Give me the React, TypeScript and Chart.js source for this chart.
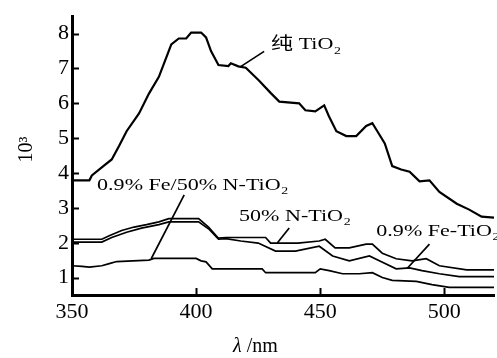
import React, { useEffect, useRef } from "react";
import { Chart, registerables } from "chart.js";

Chart.register(...registerables);

// Wavelength (nm) and values (10^3)
const wlPure = [350, 357, 358, 362, 366, 369, 372, 377, 381, 385, 388, 390, 393, 396, 398, 402, 404, 406, 409, 413, 414, 417, 420, 425.4, 430, 433.5, 441.5, 444, 448, 451.6, 453.5, 456.5, 460.5, 464.5, 468.5, 471, 473, 476, 479, 482.6, 486, 490, 494, 498, 505, 510, 515, 520];
const valPure = [3.79, 3.79, 3.93, 4.16, 4.39, 4.78, 5.2, 5.71, 6.28, 6.76, 7.32, 7.69, 7.86, 7.86, 8.03, 8.03, 7.89, 7.5, 7.1, 7.07, 7.15, 7.06, 7.02, 6.65, 6.3, 6.05, 6.0, 5.8, 5.77, 5.94, 5.63, 5.2, 5.06, 5.06, 5.35, 5.43, 5.2, 4.85, 4.2, 4.1, 4.04, 3.76, 3.79, 3.46, 3.12, 2.95, 2.75, 2.72];

const wlN = [350, 362, 365, 370, 375, 380, 385, 389, 401, 405, 409, 412, 428, 430, 441, 449.6, 452, 456, 461.7, 468.5, 471, 475, 480.6, 487, 492.7, 498, 509, 520];
const valN = [2.1, 2.1, 2.2, 2.35, 2.45, 2.52, 2.6, 2.69, 2.69, 2.45, 2.13, 2.15, 2.15, 1.99, 1.99, 2.05, 2.1, 1.85, 1.85, 1.96, 1.96, 1.7, 1.54, 1.48, 1.54, 1.34, 1.22, 1.22];

const wlFe = [350, 362, 366, 372, 378, 385, 389, 401, 405, 409, 412, 418, 425, 432, 440, 449.6, 455, 461.7, 469.8, 473.8, 480.6, 486, 491, 498, 506, 520];
const valFe = [2.02, 2.02, 2.15, 2.3, 2.42, 2.52, 2.6, 2.6, 2.4, 2.1, 2.12, 2.05, 1.99, 1.76, 1.76, 1.9, 1.62, 1.48, 1.62, 1.48, 1.25, 1.28, 1.2, 1.11, 1.03, 1.03];

const wlFeN = [350, 354, 357, 362, 365, 368, 381, 383, 400, 402, 404, 406.5, 426.6, 428, 448, 450, 453.6, 459, 465.7, 471, 475, 479, 488.7, 495, 502, 520];
const valFeN = [1.34, 1.32, 1.3, 1.34, 1.4, 1.46, 1.5, 1.55, 1.55, 1.48, 1.45, 1.25, 1.25, 1.14, 1.14, 1.25, 1.2, 1.11, 1.11, 1.14, 1.0, 0.92, 0.89, 0.8, 0.72, 0.72];

const xTicks = [350, 400, 450, 500];
const yTicks = [1, 2, 3, 4, 5, 6, 7, 8];

const seriesNames = ["纯 TiO2", "50% N-TiO2", "0.9% Fe-TiO2", "0.9% Fe/50% N-TiO2"];

// Annotation labels: [main text, subscript], text anchor (nm, value), leader line (nm, value) pairs
const labelTexts = [["纯 TiO", "2"], ["0.9% Fe/50% N-TiO", "2"], ["50% N-TiO", "2"], ["0.9% Fe-TiO", "2"]];
const labelAnchors = [[430.2, 7.68], [360.1, 3.65], [417.3, 2.75], [472.6, 2.33]];
const leaderLines = [[427.4, 7.49, 418.1, 7.06], [395.2, 3.37, 381.9, 1.54], [437.5, 2.42, 432.7, 1.99], [494, 1.96, 485, 1.26]];

const SERIF = "'Liberation Serif', 'Times New Roman', 'Noto Sans CJK SC', serif";

const toPts = (xs: number[], ys: number[]) => xs.map((x, i) => ({ x, y: ys[i] }));

const decorPlugin = {
  id: "decor",
  afterDraw(chart: any) {
    const ctx = chart.ctx;
    const xs = chart.scales.x;
    const ys = chart.scales.y;
    const area = chart.chartArea;
    ctx.save();
    ctx.strokeStyle = "#000";
    ctx.fillStyle = "#000";
    // inward tick marks
    ctx.lineWidth = 2;
    yTicks.forEach((v) => {
      const py = Math.round(ys.getPixelForValue(v)) + 0.5;
      ctx.beginPath();
      ctx.moveTo(area.left, py);
      ctx.lineTo(area.left + 7, py);
      ctx.stroke();
    });
    xTicks.forEach((v) => {
      const px = Math.round(xs.getPixelForValue(v)) + 0.5;
      ctx.beginPath();
      ctx.moveTo(px, area.bottom);
      ctx.lineTo(px, area.bottom - 7);
      ctx.stroke();
    });
    // leader lines
    ctx.lineWidth = 1.7;
    leaderLines.forEach((l) => {
      ctx.beginPath();
      ctx.moveTo(xs.getPixelForValue(l[0]), ys.getPixelForValue(l[1]));
      ctx.lineTo(xs.getPixelForValue(l[2]), ys.getPixelForValue(l[3]));
      ctx.stroke();
    });
    // labels with subscript, slightly widened like the reference
    const sx = 1.26;
    labelTexts.forEach((t, i) => {
      const px = xs.getPixelForValue(labelAnchors[i][0]);
      const py = ys.getPixelForValue(labelAnchors[i][1]);
      ctx.save();
      ctx.translate(px, py);
      ctx.scale(sx, 1);
      ctx.textBaseline = "middle";
      ctx.textAlign = "left";
      ctx.font = `17.5px ${SERIF}`;
      ctx.fillText(t[0], 0, 0);
      const w = ctx.measureText(t[0]).width;
      ctx.font = `11px ${SERIF}`;
      ctx.fillText(t[1], w + 0.5, 6);
      ctx.restore();
    });
    // y axis title (rotated)
    ctx.save();
    ctx.translate(27, (area.top + area.bottom) / 2 - 6);
    ctx.rotate(-Math.PI / 2);
    ctx.textAlign = "center";
    ctx.textBaseline = "middle";
    ctx.font = `20px ${SERIF}`;
    ctx.fillText("10³", 0, 0);
    ctx.restore();
    // x axis title
    ctx.save();
    ctx.textBaseline = "middle";
    ctx.textAlign = "left";
    const tx = 233;
    const ty = 347;
    ctx.font = `italic 20px ${SERIF}`;
    ctx.fillText("λ", tx, ty);
    const lw = ctx.measureText("λ").width;
    ctx.font = `20px ${SERIF}`;
    ctx.fillText(" /nm", tx + lw, ty);
    ctx.restore();
    ctx.restore();
  },
};

export default function App() {
  const ref = useRef<HTMLCanvasElement | null>(null);
  useEffect(() => {
    document.body.style.margin = "0";
    const canvas = ref.current;
    if (!canvas) return;
    const mk = (xs: number[], ys: number[], label: string, w: number) => ({
      label,
      data: toPts(xs, ys),
      borderColor: "#000",
      backgroundColor: "#000",
      borderWidth: w,
      pointRadius: 0,
      tension: 0,
      fill: false,
    });
    const chart = new Chart(canvas, {
      type: "line",
      data: {
        datasets: [
          mk(wlPure, valPure, seriesNames[0], 2.2),
          mk(wlN, valN, seriesNames[1], 1.7),
          mk(wlFe, valFe, seriesNames[2], 1.7),
          mk(wlFeN, valFeN, seriesNames[3], 1.7),
        ],
      },
      options: {
        animation: false,
        responsive: false,
        devicePixelRatio: 1,
        layout: { padding: { top: 11, right: 3, left: 0, bottom: 0 } },
        plugins: { legend: { display: false }, tooltip: { enabled: false } },
        scales: {
          x: {
            type: "linear",
            min: 350,
            max: 520,
            afterBuildTicks: (s: any) => {
              s.ticks = xTicks.map((v) => ({ value: v }));
            },
            afterFit: (s: any) => {
              s.height = 63;
            },
            grid: { display: false, drawTicks: false },
            border: { display: true, width: 3, color: "#000" },
            ticks: {
              color: "#000",
              font: { family: SERIF, size: 22 },
              padding: 4,
              maxRotation: 0,
            },
          },
          y: {
            type: "linear",
            min: 0.5,
            max: 8.5,
            afterBuildTicks: (s: any) => {
              s.ticks = yTicks.map((v) => ({ value: v }));
            },
            afterFit: (s: any) => {
              s.width = 72;
            },
            grid: { display: false, drawTicks: false },
            border: { display: true, width: 3, color: "#000" },
            ticks: {
              color: "#000",
              font: { family: SERIF, size: 22 },
              padding: 3,
            },
          },
        },
      },
      plugins: [decorPlugin],
    } as any);
    return () => chart.destroy();
  }, []);
  return <canvas ref={ref} width={497} height={358} style={{ display: "block" }} />;
}
